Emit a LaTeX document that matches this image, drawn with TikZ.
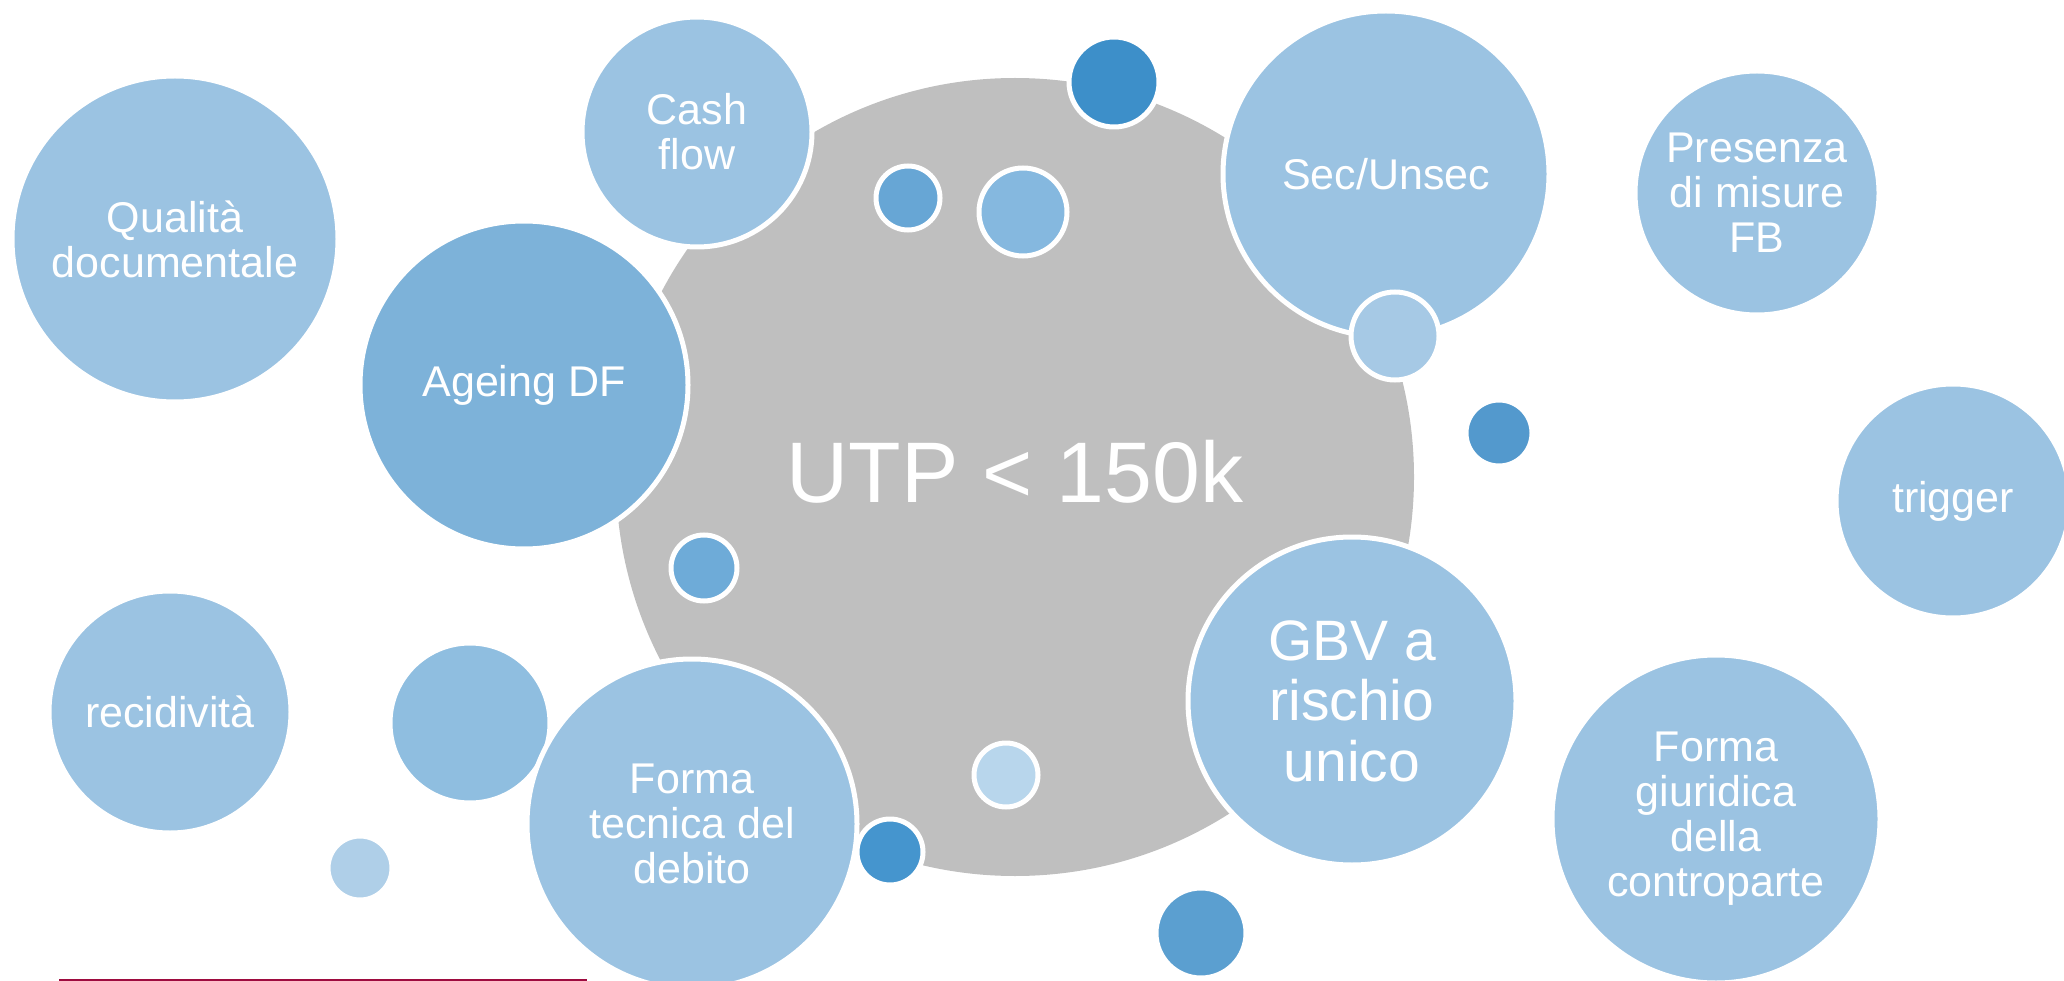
\documentclass[tikz,border=0pt]{standalone}
\usepackage{fontspec}
\setmainfont{Liberation Sans}
\newcommand\lblfont{\fontsize{43}{45}\selectfont}
\newcommand\bigfont{\fontsize{57}{60.5}\selectfont}
\newcommand\hugefont{\fontsize{86}{90}\selectfont}
\definecolor{cgray}{HTML}{BFBFBF}
\definecolor{cmain}{HTML}{9BC3E2}
\definecolor{cage}{HTML}{7DB2D9}
\definecolor{cdA}{HTML}{67A6D5}
\definecolor{cdB}{HTML}{85B8DF}
\definecolor{cdC}{HTML}{3D8FC9}
\definecolor{cdD}{HTML}{A6C9E5}
\definecolor{cdE}{HTML}{5399CD}
\definecolor{cdF}{HTML}{6EABD8}
\definecolor{cdG}{HTML}{8FBEE0}
\definecolor{cdH}{HTML}{B8D6EC}
\definecolor{cdI}{HTML}{4595CE}
\definecolor{cdJ}{HTML}{AFCFE8}
\definecolor{cdK}{HTML}{5B9FD0}
\definecolor{cline}{HTML}{9E0B3F}
\begin{document}
\begin{tikzpicture}[x=1pt,y=-1pt,
  bub/.style={circle, fill=#1, draw=white, line width=5pt, inner sep=0pt,
    text=white, align=center, font=\lblfont},
  bub/.default=cmain]
\useasboundingbox (0,0) rectangle (2064,981);
\clip (0,0) rectangle (2064,981);
% central circle
\node[circle, fill=cgray, inner sep=0pt, minimum size=798pt, text=white, font=\hugefont] (utp) at (1015,477) {};
\node[text=white, font=\hugefont, inner sep=0pt] (utpt) at (1015,472) {UTP < 150k};
% bubbles
\node[bub, minimum size=326pt] (qual) at (175,239) {Qualità\\documentale};
\node[bub, minimum size=230pt] (cash) at (697,132) {Cash\\flow};
\node[bub=cage, minimum size=328pt] (age) at (524,385) {Ageing DF};
\node[bub=cdA, minimum size=64pt] (d1) at (908,198) {};
\node[bub=cdB, minimum size=88pt] (d2) at (1023,212) {};
\node[bub=cdC, minimum size=90pt] (d3) at (1114,82) {};
\node[bub, minimum size=326pt] (sec) at (1386,174) {Sec/Unsec};
\node[bub=cdD, minimum size=88pt] (d4) at (1395,336) {};
\node[bub, minimum size=244pt] (pres) at (1757,193) {Presenza\\di misure\\FB};
\node[bub=cdE, minimum size=66pt] (d5) at (1499,433) {};
\node[bub, minimum size=234pt] (trig) at (1953,501) {trigger};
\node[bub=cdF, minimum size=66pt] (d6) at (704,568) {};
\node[bub, minimum size=242pt] (rec) at (170,712) {recidività};
\node[bub=cdG, minimum size=160pt] (d7) at (470,723) {};
\node[bub, minimum size=330pt] (ftec) at (692,824) {Forma\\tecnica del\\debito};
\node[bub=cdH, minimum size=64pt] (d8) at (1006,775) {};
\node[bub=cdI, minimum size=66pt] (d9) at (890,852) {};
\node[bub=cdJ, minimum size=64pt] (d10) at (360,868) {};
\node[bub, minimum size=328pt, font=\bigfont] (gbv) at (1352,701) {GBV a\\rischio\\unico};
\node[bub=cdK, minimum size=90pt] (d11) at (1201,933) {};
\node[bub, minimum size=328pt] (fgiu) at (1716,819) {Forma\\giuridica\\della\\controparte};
% bottom rule
\coordinate (la) at (59,980);
\coordinate (lb) at (587,980);
\draw[cline, line width=2pt] (la) -- (lb);
\end{tikzpicture}
\end{document}
